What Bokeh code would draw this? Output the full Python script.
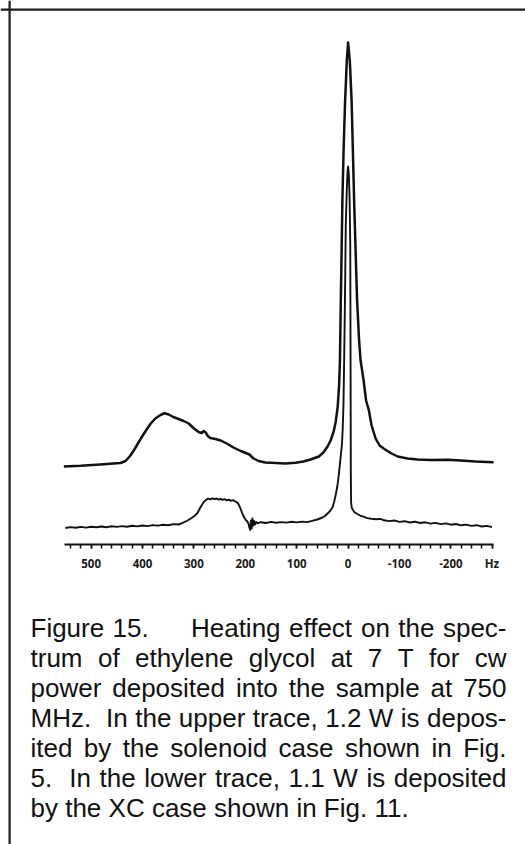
import re
from bokeh.plotting import figure
from bokeh.models import Range1d, LinearAxis, FixedTicker, Span, ColumnDataSource
from bokeh.core.properties import value
from bokeh.embed import file_html
from bokeh.resources import INLINE

# ---------------- data (frequency offset in Hz, signal in arbitrary units) ----------------
upper_hz = [553, 520, 482, 443, 433, 425, 417, 410, 402, 392,
            384, 375, 365, 357, 349, 340, 330, 320, 310, 301,
            291, 285, 281, 277, 273, 268, 258, 248, 236, 223,
            209, 199, 192, 184, 174, 161, 141, 122, 102, 87,
            73, 57, 48, 40, 34, 28, 24, 20.4, 17.5, 15.9,
            14.2, 12.6, 11.1, 8.8, 5.8, 2.5, 0, -3.3, -6.8, -9.3,
            -11.7, -14.6, -17.5, -21.4, -24.3, -30.2, -35, -40.5, -45.7, -53.5,
            -61.3, -69.1, -82.7, -96.3, -115.8, -135.2, -160.5, -193.6, -218.9, -248.1,
            -283]
upper_amp = [78, 78.7, 80, 81.5, 83.5, 88, 94, 100, 107, 115,
             121, 126, 129.5, 131.3, 130, 127.5, 125.5, 123.5, 121, 116.5,
             112.5, 111.5, 113.5, 112, 108.5, 106.5, 105.5, 104, 101, 97,
             93.5, 91.5, 90, 86, 83.5, 82, 81.5, 81, 81.7, 83,
             85, 88, 92, 98, 104, 113, 123, 137, 159, 184,
             244, 294, 344, 394, 444, 484, 502, 484, 444, 394,
             344, 294, 244, 204, 184, 164, 144, 134, 119, 106,
             99, 96, 91.5, 88, 86, 85, 84.5, 84.7, 84, 83,
             82.3]

lower_hz = [550, 540, 530, 520, 510, 500, 490, 480, 470, 460,
            450, 440, 430, 420, 410, 400, 390, 380, 370, 360,
            350, 340, 330, 322, 314, 306, 299, 293, 288, 284,
            280, 276, 272, 268, 264, 260, 256, 252, 248, 244,
            240, 236, 232, 228, 224, 220, 217, 214, 211, 208,
            205, 202, 199, 196, 194, 192, 190.5, 189, 187.5, 186,
            184.5, 183, 181, 179, 176, 170, 160, 150, 140, 130,
            120, 110, 100, 90, 80, 70, 60, 50, 45, 40,
            35, 30, 27, 24, 21, 18, 15, 12, 10.5, 9,
            7.5, 6, 4.5, 2.5, 1, 0, -1.5, -3, -4.2, -4.8,
            -5.3, -5.8, -7, -9, -12, -18, -25, -30, -37, -45,
            -55, -63, -70, -80, -90, -100, -110, -120, -130, -140,
            -150, -160, -170, -180, -190, -200, -210, -220, -230, -240,
            -250, -260, -270, -280]
lower_amp = [16.5, 17.4, 16.8, 17.6, 16.9, 17.8, 17.2, 18.0, 17.3, 18.2,
             17.6, 18.4, 17.8, 18.7, 18.1, 19.0, 18.4, 19.4, 18.9, 19.8,
             19.3, 20.4, 20.0, 21.6, 23.5, 26.0, 28.5, 31.5, 36.5, 40.0,
             43.0, 44.8, 45.9, 45.2, 46.1, 45.3, 46.0, 44.9, 45.6, 44.6,
             45.3, 44.2, 44.8, 43.7, 44.3, 43.2, 42.5, 41.0, 38.0, 34.0,
             30.0, 27.0, 24.5, 23.0, 21.0, 17.0, 14.5, 24.0, 16.0, 26.0,
             19.0, 23.5, 20.0, 22.5, 21.2, 22.3, 21.5, 22.6, 21.8, 22.4,
             21.9, 22.8, 22.1, 22.9, 22.4, 23.6, 25.0, 27.0, 28.5, 31.0,
             33.5, 37.5, 43.0, 50.0, 58.0, 70.0, 85.0, 100.0, 115.0, 140.0,
             190.0, 250.0, 320.0, 355.0, 374.0, 378.0, 370.0, 345.0, 300.0, 180.0,
             70.0, 42.0, 37.0, 35.0, 32.5, 30.5, 28.5, 27.8, 26.4, 25.8,
             25.2, 25.6, 24.2, 23.4, 24.0, 22.6, 23.3, 22.0, 22.8, 21.5,
             22.2, 20.9, 21.6, 20.4, 21.1, 19.8, 20.5, 19.2, 19.9, 18.6,
             19.3, 18.0, 18.6, 17.4]

major_ticks = [500, 400, 300, 200, 100, 0, -100, -200, -280]
tick_labels = ["500", "400", "300", "200", "100", "0", "-100", "-200", "Hz"]
minor_ticks = list(range(540, -300, -20))

caption_lines = [
    "Figure 15.     Heating effect on the spec-",
    "trum of ethylene glycol at 7 T for cw",
    "power deposited into the sample at 750",
    "MHz.  In the upper trace, 1.2 W is depos-",
    "ited by the solenoid case shown in Fig.",
    "5.  In the lower trace, 1.1 W is deposited",
    "by the XC case shown in Fig. 11.",
]

# ---------------- layout (page pixels; the page has no body margin) ----------------
W, H = 525, 844
PX_PER_HZ = 0.514
ZERO_X = 347.6       # px of 0 Hz
AXIS_Y = 544.0       # px (from top) of the axis line

def fx(px):
    return (ZERO_X - px) / PX_PER_HZ

def fy(py):
    return AXIS_Y - py

p = figure(width=W, height=H, output_backend="svg", toolbar_location=None,
           x_range=Range1d(fx(0), fx(W)), y_range=Range1d(fy(H), fy(0)),
           x_axis_type=None, y_axis_type=None, min_border=0,
           outline_line_color=None, background_fill_color="white",
           border_fill_color="white")
p.min_border_left = p.min_border_right = p.min_border_top = p.min_border_bottom = 0

INK = "#111111"
p.line(upper_hz, upper_amp, line_width=2.5, line_color=INK, line_join="round")
p.line(lower_hz, lower_amp, line_width=1.9, line_color=INK, line_join="round")

ax = LinearAxis(fixed_location=0, bounds=(-283, 552),
                ticker=FixedTicker(ticks=major_ticks, minor_ticks=minor_ticks),
                major_label_overrides=dict(zip(major_ticks, tick_labels)))
ax.axis_line_width = 2
ax.axis_line_color = INK
ax.major_tick_in = 0
ax.minor_tick_in = 0
ax.major_tick_out = 4
ax.minor_tick_out = 4
ax.major_tick_line_width = 1.5
ax.minor_tick_line_width = 1.5
ax.major_tick_line_color = INK
ax.minor_tick_line_color = INK
ax.major_label_text_font = "Open Sans"
ax.major_label_text_font_style = "bold"
ax.major_label_text_font_size = "11.5px"
ax.major_label_text_color = "#1a1a1a"
ax.major_label_standoff = 7
p.add_layout(ax, "below")

# border (left and top edges of the figure box)
p.add_layout(Span(location=fx(9.1), dimension="height", line_width=2.2, line_color="#1a1a1a"))
p.add_layout(Span(location=fy(9.1), dimension="width", line_width=2.2, line_color="#1a1a1a"))

# ---------------- caption, justified ----------------
CW = {' ': 278, '.': 278, ',': 278, '-': 333,
      'a': 556, 'b': 556, 'c': 500, 'd': 556, 'e': 556, 'f': 278, 'g': 556, 'h': 556,
      'i': 222, 'j': 222, 'k': 500, 'l': 222, 'm': 833, 'n': 556, 'o': 556, 'p': 556,
      'q': 556, 'r': 333, 's': 500, 't': 278, 'u': 556, 'v': 500, 'w': 722, 'x': 500,
      'y': 500, 'z': 500,
      'C': 722, 'F': 611, 'H': 722, 'I': 278, 'M': 833, 'T': 611, 'W': 944, 'X': 667}
for d in "0123456789":
    CW[d] = 556

FONT_PX = 26
LINE_LEFT, LINE_RIGHT = 30.0, 506.0
BASE0, LEADING = 627.0, 30.0

def tw(s):
    return sum(CW.get(c, 556) for c in s) * FONT_PX / 1000.0

space_w = tw(" ")
cx, cy, ct = [], [], []
for k, line in enumerate(caption_lines):
    parts = re.split(r"( +)", line)
    words = parts[0::2]
    gaps = [len(g) for g in parts[1::2]]
    natural = sum(tw(w) for w in words) + sum(gaps) * space_w
    last = (k == len(caption_lines) - 1)
    extra = 0.0 if last else (LINE_RIGHT - LINE_LEFT - natural) / max(1, sum(gaps))
    x = LINE_LEFT
    baseline = BASE0 + k * LEADING
    for j, w in enumerate(words):
        cx.append(fx(x)); cy.append(fy(baseline)); ct.append(w)
        x += tw(w)
        if j < len(gaps):
            x += gaps[j] * (space_w + extra)

p.text(x="x", y="y", text="text", source=ColumnDataSource(dict(x=cx, y=cy, text=ct)),
       text_font=value("Liberation Sans"), text_font_size=f"{FONT_PX}px",
       text_baseline="alphabetic", text_align="left", text_color="#111111")

open("out.html", "w").write(file_html(p, INLINE))
